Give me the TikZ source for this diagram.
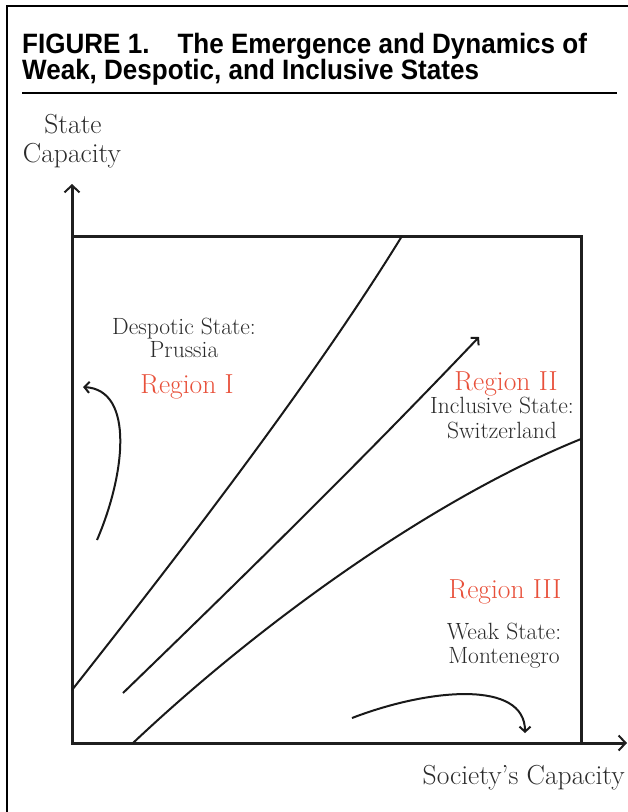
\documentclass[tikz,border=0pt]{standalone}
\usepackage{fontspec}
\newfontfamily\titlefont[FakeStretch=0.93]{Liberation Sans}
\usetikzlibrary{arrows.meta}
\definecolor{regred}{HTML}{E8503A}
\definecolor{txtgray}{HTML}{2A2A2A}
\begin{document}
\begin{tikzpicture}[x=1pt,y=-1pt,
  frame/.style={line width=2.2pt,black},
  axis/.style={line width=3pt,draw=black!88,-{Straight Barb[length=7pt,width=15pt,line width=2pt]}},
  boxline/.style={line width=3pt,draw=black!88},
  curve/.style={line width=2pt,draw=black!90},
  flow/.style={line width=2pt,draw=black!90,-{Straight Barb[length=5pt,width=11pt]}},
  region/.style={text=regred,font=\fontsize{27.5}{28}\selectfont,inner sep=0pt,anchor=base},
  lab/.style={text=txtgray,font=\fontsize{23.5}{25}\selectfont,inner sep=0pt,anchor=base},
  axlab/.style={text=txtgray,font=\fontsize{27.5}{28}\selectfont,inner sep=0pt},
  ttl/.style={font=\titlefont\bfseries\fontsize{28}{26}\selectfont,inner sep=0pt,anchor=base west},
]
\useasboundingbox (0,0) rectangle (628,812);

% page frame (top and left edges)
\coordinate (fl) at (7,812);
\coordinate (fc) at (7,6);
\coordinate (fr) at (628,6);
\draw[frame] (fl) -- (fc) -- (fr);

% title
\node[ttl] (t1) at (22,53) {FIGURE 1.\hspace{28pt}The Emergence and Dynamics of};
\node[ttl] (t2) at (22,79) {Weak, Despotic, and Inclusive States};
\coordinate (rl) at (22,93);
\coordinate (rr) at (617,93);
\draw[line width=2pt] (rl) -- (rr);

% axes
\coordinate (O) at (72,743);
\coordinate (ytip) at (72,184);
\coordinate (xtip) at (627,743);
\draw[axis] (O) -- (ytip);
\draw[axis] (O) -- (xtip);
\node[axlab,anchor=base] (yl1) at (73,133) {State};
\node[axlab,anchor=base] (yl2) at (72,162) {Capacity};
\node[axlab,anchor=base east] (xl) at (625,784) {Society's Capacity};

% box
\coordinate (bl) at (72,743);
\coordinate (tr) at (581,236);
\draw[boxline] (bl) rectangle (tr);

% boundary curves
\coordinate (c1s) at (72,690);
\coordinate (c1e) at (402,236);
\draw[curve] (c1s) .. controls (184,548) and (314,379) .. (c1e);

\coordinate (c2s) at (123,693);
\coordinate (c2e) at (479,337);
\draw[flow] (c2s) .. controls (245,575) and (362,460) .. (c2e);

\coordinate (c3s) at (133,743);
\coordinate (c3e) at (581,439);
\draw[curve] (c3s) .. controls (258,625) and (430,500) .. (c3e);

% dynamics arrows
\coordinate (a1s) at (97,540);
\coordinate (a1e) at (83,387);
\draw[flow] (a1s) .. controls (125,475) and (135,390) .. (a1e);

\coordinate (a3s) at (352,718);
\coordinate (a3e) at (525,733);
\draw[flow] (a3s) .. controls (430,688) and (525,680) .. (a3e);

% labels
\node[lab] (d1) at (184,334) {Despotic State:};
\node[lab] (d2) at (184,357) {Prussia};
\node[region] (r1) at (187,393) {Region I};

\node[region] (r2) at (506,390) {Region II};
\node[lab] (i1) at (502,413) {Inclusive State:};
\node[lab] (i2) at (502,438) {Switzerland};

\node[region] (r3) at (505,598) {Region III};
\node[lab] (w1) at (504,639) {Weak State:};
\node[lab] (w2) at (504,663) {Montenegro};
\end{tikzpicture}
\end{document}
